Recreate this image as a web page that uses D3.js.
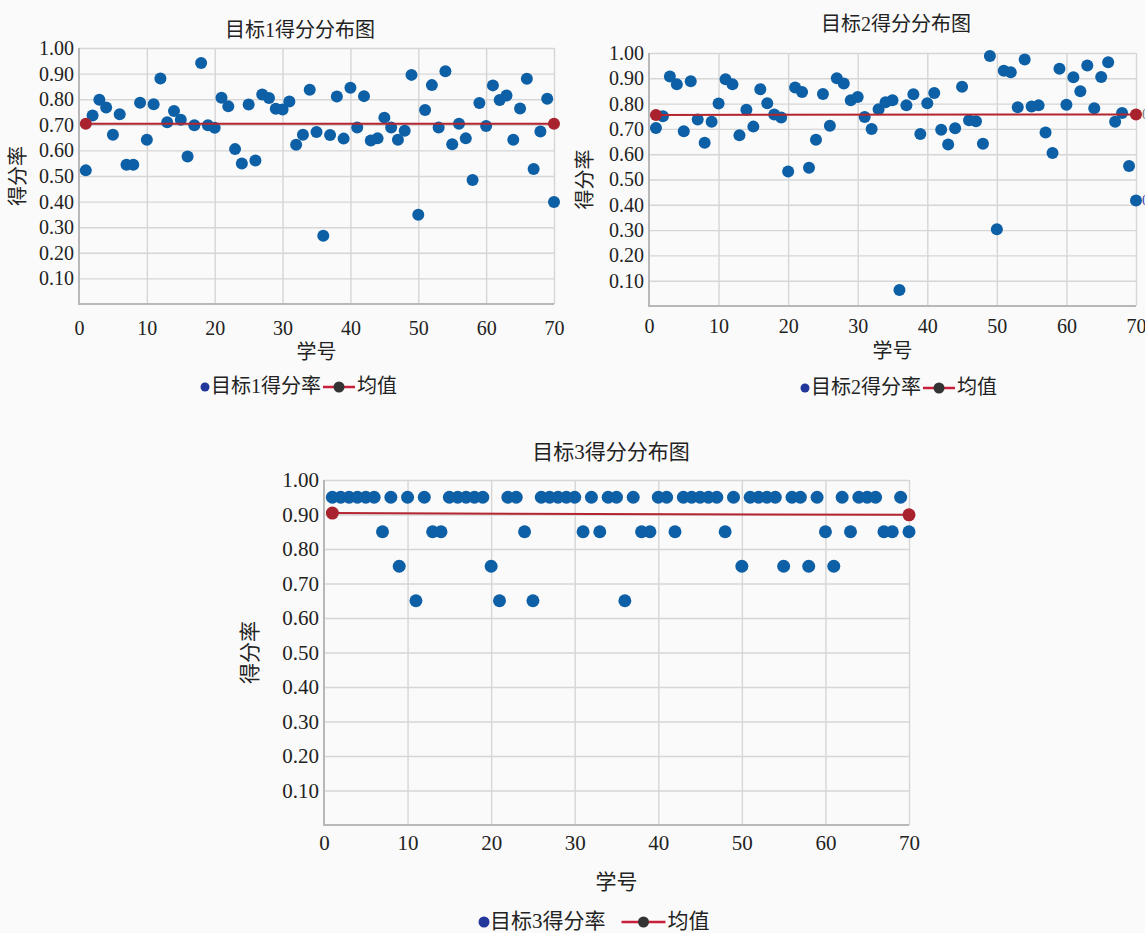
<!DOCTYPE html>
<html>
<head>
<meta charset="utf-8">
<script src="https://cdn.jsdelivr.net/npm/d3@7"></script>
<style>
  body { margin: 0; background: #fafafa; }
</style>
</head>
<body>
<script>
const [width, height] = [1145, 933];
const FONT = '"Liberation Serif", "DejaVu Serif", "Noto Sans CJK SC", serif';

// student numbers and score rates
const ids = d3.range(1, 71);
const goal1 = [0.522,0.736,0.798,0.768,0.661,0.741,0.544,0.544,0.786,0.642,
  0.780,0.881,0.710,0.754,0.720,0.576,0.698,0.941,0.698,0.688,
  0.806,0.772,0.605,0.549,0.779,0.561,0.818,0.805,0.763,0.760,
  0.791,0.622,0.661,0.837,0.672,0.267,0.660,0.811,0.646,0.845,
  0.689,0.812,0.639,0.647,0.728,0.689,0.642,0.677,0.895,0.349,
  0.758,0.855,0.689,0.909,0.624,0.704,0.647,0.484,0.785,0.695,
  0.854,0.797,0.814,0.642,0.764,0.880,0.527,0.674,0.802,0.398];
const goal2 = [0.704,0.750,0.907,0.876,0.691,0.888,0.737,0.645,0.728,0.800,
  0.896,0.876,0.675,0.776,0.709,0.857,0.801,0.757,0.745,0.532,
  0.864,0.846,0.546,0.657,0.838,0.712,0.900,0.879,0.813,0.826,
  0.747,0.700,0.778,0.805,0.813,0.063,0.793,0.837,0.680,0.801,
  0.842,0.697,0.638,0.703,0.867,0.734,0.730,0.641,0.988,0.303,
  0.930,0.924,0.786,0.974,0.789,0.793,0.686,0.605,0.938,0.795,
  0.904,0.849,0.951,0.782,0.905,0.963,0.728,0.763,0.553,0.417];
const goal3 = [0.95,0.95,0.95,0.95,0.95,0.95,0.85,0.95,0.75,0.95,
  0.65,0.95,0.85,0.85,0.95,0.95,0.95,0.95,0.95,0.75,
  0.65,0.95,0.95,0.85,0.65,0.95,0.95,0.95,0.95,0.95,
  0.85,0.95,0.85,0.95,0.95,0.65,0.95,0.85,0.85,0.95,
  0.95,0.85,0.95,0.95,0.95,0.95,0.95,0.85,0.95,0.75,
  0.95,0.95,0.95,0.95,0.75,0.95,0.95,0.75,0.95,0.85,
  0.75,0.95,0.85,0.95,0.95,0.95,0.85,0.85,0.95,0.85];

// mean series: [first student, last student]
const meanIds = [1, 70];
const mean1 = [0.704, 0.704];
const mean2 = [0.755, 0.757];
const mean3 = [0.904, 0.899];

const xTicks = [0, 10, 20, 30, 40, 50, 60, 70];
const yTicks = [0.1, 0.2, 0.3, 0.4, 0.5, 0.6, 0.7, 0.8, 0.9, 1.0];

const svg = d3.select('body').append('svg')
  .attr('width', width)
  .attr('height', height)
  .style('font-family', FONT);

const charts = [
  {title: '目标1得分分布图', values: goal1, mean: mean1, legend: '目标1得分率',
   x0: 79, x1: 554, y0: 304, y1: 48, r: 6, fs: 20,
   titleX: 300, titleY: 37, xPad: 17, xTitleY: 359, legY: 385, legX: 205, yTitleX: 18,
   legGap: 0, legLine: 32},
  {title: '目标2得分分布图', values: goal2, mean: mean2, legend: '目标2得分率',
   x0: 649, x1: 1136, y0: 306, y1: 53, r: 6, fs: 20,
   titleX: 896, titleY: 31, xPad: 13, xTitleY: 358, legY: 386, legX: 805, yTitleX: 585,
   legGap: 0, legLine: 32, edgeLabels: true},
  {title: '目标3得分分布图', values: goal3, mean: mean3, legend: '目标3得分率',
   x0: 324, x1: 909, y0: 825, y1: 480, r: 6.5, fs: 21,
   titleX: 611, titleY: 459, xPad: 10, xTitleY: 889, legY: 920, legX: 484, yTitleX: 250,
   legGap: 14, legLine: 44}
];

charts.forEach(drawChart);

function drawChart(c) {
  const g = svg.append('g');
  const xScale = d3.scaleLinear().domain([0, 70]).range([c.x0, c.x1]);
  const yScale = d3.scaleLinear().domain([0, 1]).range([c.y0, c.y1]);

  // grid + tick labels
  const gy = g.append('g')
    .attr('transform', `translate(${c.x0},0)`)
    .call(d3.axisLeft(yScale).tickValues(yTicks).tickFormat(d3.format('.2f'))
      .tickSize(-(c.x1 - c.x0)).tickPadding(5));
  const gx = g.append('g')
    .attr('transform', `translate(0,${c.y0})`)
    .call(d3.axisBottom(xScale).tickValues(xTicks).tickFormat(d3.format('d'))
      .tickSize(-(c.y0 - c.y1)).tickPadding(c.xPad));
  [gx, gy].forEach(a => {
    a.attr('font-family', FONT).attr('font-size', c.fs);
    a.select('.domain').remove();
    a.selectAll('line').attr('stroke', '#d6d6d6').attr('stroke-width', 1.4);
    a.selectAll('text').style('font-family', FONT).style('font-size', c.fs + 'px').attr('fill', '#222');
  });
  gx.selectAll('.tick').filter(d => d === 0).select('line').remove();

  // axis lines
  g.append('path')
    .attr('d', `M${c.x0},${c.y1} L${c.x0},${c.y0} L${c.x1},${c.y0}`)
    .attr('fill', 'none')
    .attr('stroke', '#b8b8b8')
    .attr('stroke-width', 2);

  // points
  g.append('g').selectAll('circle')
    .data(c.values)
    .enter()
    .append('circle')
    .attr('cx', (d, i) => xScale(ids[i]))
    .attr('cy', d => yScale(d))
    .attr('r', c.r)
    .attr('fill', '#0d5fa6');

  // mean line with end markers
  const line = d3.line()
    .x((d, i) => xScale(meanIds[i]))
    .y(d => yScale(d));
  g.append('path')
    .attr('d', line(c.mean))
    .attr('fill', 'none')
    .attr('stroke', '#b3252f')
    .attr('stroke-width', 2);
  g.append('g').selectAll('circle')
    .data(c.mean)
    .enter()
    .append('circle')
    .attr('cx', (d, i) => xScale(meanIds[i]))
    .attr('cy', d => yScale(d))
    .attr('r', c.r)
    .attr('fill', '#a8232e');

  if (c.edgeLabels) {
    g.append('text')
      .attr('x', xScale(70) + 6).attr('y', yScale(c.mean[1]) + 5)
      .style('font-size', '14px').attr('fill', '#777').text('0.76');
    g.append('text')
      .attr('x', xScale(70) + 6).attr('y', yScale(c.values[69]) + 5)
      .style('font-size', '14px').attr('fill', '#3344aa').text('0.42');
  }

  const txt = (x, y, s) => g.append('text')
    .attr('x', x).attr('y', y)
    .attr('text-anchor', 'middle')
    .style('font-size', c.fs + 'px')
    .attr('fill', '#222')
    .text(s);
  txt(c.titleX, c.titleY, c.title);
  txt((c.x0 + c.x1) / 2, c.xTitleY, '学号');
  txt(0, 0, '得分率')
    .attr('transform', `translate(${c.yTitleX + 7},${(c.y0 + c.y1) / 2}) rotate(-90)`);

  // legend
  const lg = g.append('g').attr('transform', `translate(${c.legX},${c.legY})`);
  lg.append('circle').attr('cx', 0).attr('cy', 2).attr('r', c.fs === 20 ? 4.5 : 5.5).attr('fill', '#23369a');
  const t1 = lg.append('text')
    .attr('x', 6).attr('y', 8)
    .style('font-size', c.fs + 'px')
    .attr('fill', '#222')
    .text(c.legend);
  const w1 = t1.node().getComputedTextLength();
  const lx = 6 + w1 + 2 + c.legGap;
  lg.append('line')
    .attr('x1', lx).attr('x2', lx + c.legLine)
    .attr('y1', 2).attr('y2', 2)
    .attr('stroke', '#c8203a').attr('stroke-width', 2.5);
  lg.append('circle')
    .attr('cx', lx + c.legLine / 2).attr('cy', 2).attr('r', 5.5)
    .attr('fill', '#333');
  lg.append('text')
    .attr('x', lx + c.legLine + 2).attr('y', 8)
    .style('font-size', c.fs + 'px')
    .attr('fill', '#222')
    .text('均值');
}
</script>
</body>
</html>
